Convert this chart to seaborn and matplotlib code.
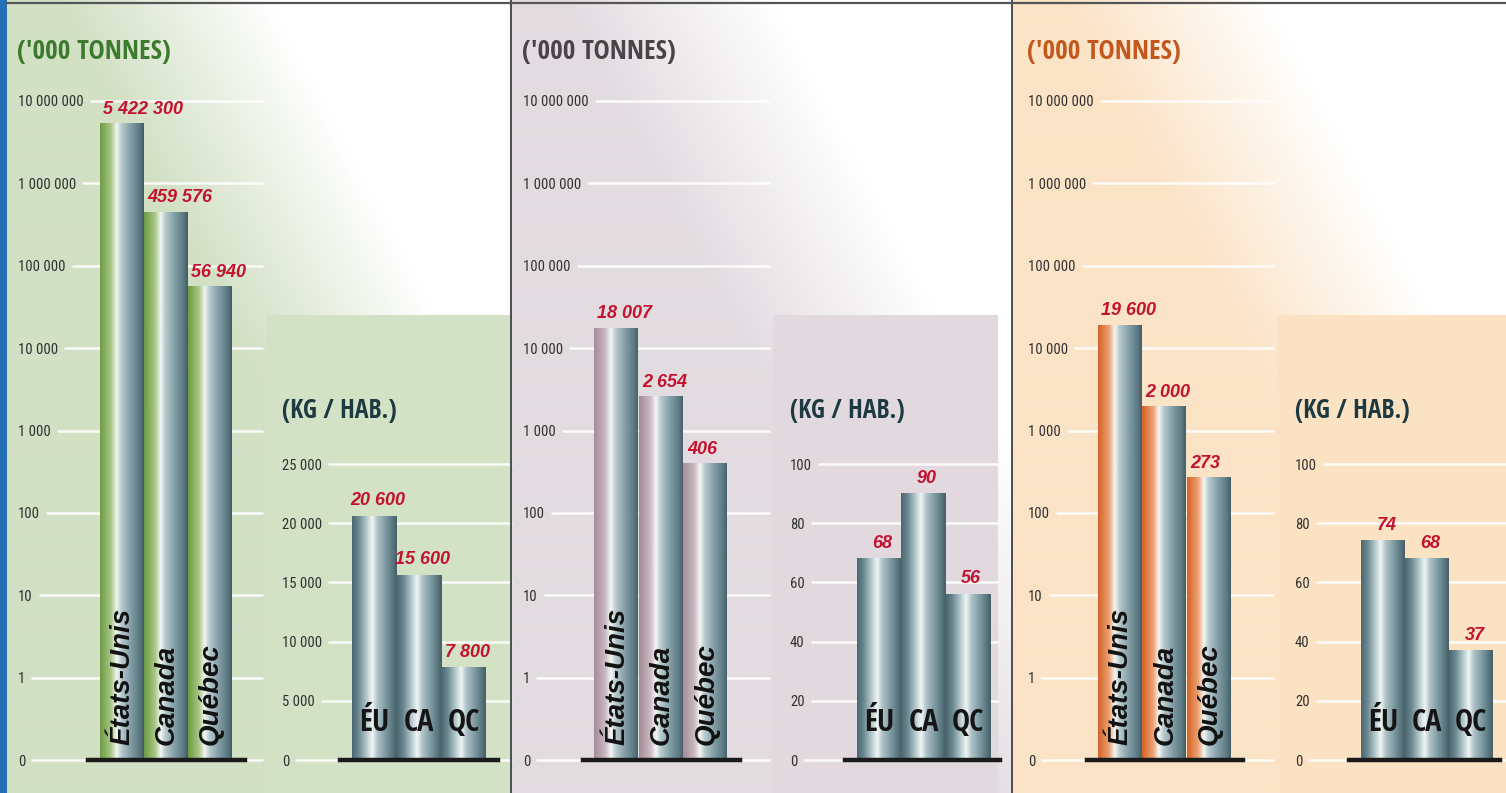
import numpy as np
import matplotlib
matplotlib.use("Agg")
import matplotlib.pyplot as plt
import seaborn as sns
import pandas as pd
from matplotlib.colors import LinearSegmentedColormap, to_rgb
from matplotlib.lines import Line2D
from matplotlib.patches import Rectangle
from matplotlib.ticker import NullLocator

W, H = 1506, 793

# ---- data -------------------------------------------------------------
REGIONS = ["États-Unis", "Canada", "Québec"]
REGION_ABBR = ["ÉU", "CA", "QC"]

# totals, '000 tonnes (log axis)
TOTAL_1 = [5422300, 459576, 56940]
TOTAL_2 = [18007, 2654, 406]
TOTAL_3 = [19600, 2000, 273]

# per inhabitant, kg / hab.
PERCAP_1 = [20600, 15600, 7800]
PERCAP_2 = [68, 90, 56]
PERCAP_3 = [74, 68, 37]

LOG_TICKS = [0.1, 1, 10, 100, 1e3, 1e4, 1e5, 1e6, 1e7]
LOG_TICK_LABELS = ["0", "1", "10", "100", "1 000", "10 000", "100 000",
                   "1 000 000", "10 000 000"]
PERCAP_TICKS_1 = [0, 5000, 10000, 15000, 20000, 25000]
PERCAP_TICKS_23 = [0, 20, 40, 60, 80, 100]

TITLE_MAIN = "('000 TONNES)"
TITLE_INSET = "(KG / HAB.)"

# ---- layout / styles (pixel positions of the reference) ---------------
PANELS = [
    dict(total=TOTAL_1, percap=PERCAP_1, pticks=PERCAP_TICKS_1,
         x0=7, x1=511, tint="#d2e0c4", inset_tint="#d3e2c5",
         title_color="#3c7b2d", bar_dark="#6f9c47", bar_light="#a9c886",
         tick_x=18, main=(88, 245), main_bar0=100, main_bw=44,
         inset_bg=(266, 511), inset_x=282, inset=(340, 498), inset_bar0=352, inset_bw=44.7),
    dict(total=TOTAL_2, percap=PERCAP_2, pticks=PERCAP_TICKS_23,
         x0=511, x1=1012, tint="#e2dce0", inset_tint="#e2d9de",
         title_color="#4a4347", bar_dark="#a48e99", bar_light="#cbb9c1",
         tick_x=523, main=(583, 740), main_bar0=594, main_bw=44.7,
         inset_bg=(773, 998), inset_x=790, inset=(845, 1000), inset_bar0=857, inset_bw=44.3),
    dict(total=TOTAL_3, percap=PERCAP_3, pticks=PERCAP_TICKS_23,
         x0=1012, x1=1506, tint="#fbe3c6", inset_tint="#fbe2c2",
         title_color="#c2581e", bar_dark="#d5652a", bar_light="#eda173",
         tick_x=1028, main=(1087, 1243), main_bar0=1098, main_bw=44.3,
         inset_bg=(1277, 1506), inset_x=1295, inset=(1349, 1500), inset_bar0=1361, inset_bw=44),
]

BASE_Y = 760       # pixel row of the zero line
MAIN_TOP_Y = 101   # pixel row of 10 000 000
INSET_TOP_Y = 464  # pixel row of the top inset tick
RED = "#c3122f"
COND_BOLD = ["Open Sans Condensed", "IBM Plex Sans Condensed", "Liberation Sans", "DejaVu Sans"]
COND = ["Roboto Condensed", "IBM Plex Sans Condensed", "Liberation Sans", "DejaVu Sans"]
SANS = ["Liberation Sans", "DejaVu Sans"]

GRAD = np.linspace(0, 1, 256)[None, :]
INSET_CMAP = LinearSegmentedColormap.from_list("metal", [
    (0.0, "#4a6670"), (0.15, "#6c8a93"), (0.36, "#c6d6d8"), (0.45, "#f2f6f5"),
    (0.56, "#b0c4c8"), (0.8, "#718f98"), (1.0, "#465f68")])


def fx(px):
    return px / W


def fy(py):
    return 1 - py / H


def fmt(v):
    return f"{v:,}".replace(",", " ")


def main_cmap(p):
    return LinearSegmentedColormap.from_list("bar", [
        (0.0, p["bar_dark"]), (0.24, p["bar_light"]), (0.37, "#f3f6f4"),
        (0.48, "#b7c9cd"), (0.7, "#7f9ba3"), (0.88, "#5e7b85"), (1.0, "#3f5961")])


def shade(ax, cmap, ybottom):
    for p in ax.patches:
        x0, w, h = p.get_x(), p.get_width(), p.get_height()
        ax.imshow(GRAD, cmap=cmap, extent=(x0, x0 + w, ybottom, h), aspect="auto",
                  interpolation="bicubic", zorder=2)
        p.set_facecolor("none")
        p.set_edgecolor("none")


def style_axis(ax, left_px, tick_x_px):
    ax.set_facecolor("none")
    for s in ("left", "right", "top"):
        ax.spines[s].set_visible(False)
    ax.spines["bottom"].set_color("#1a1a1a")
    ax.spines["bottom"].set_linewidth(3.2)
    ax.spines["bottom"].set_zorder(4)
    ax.set_xticks([])
    ax.set_xlabel("")
    ax.set_ylabel("")
    ax.yaxis.set_minor_locator(NullLocator())
    ax.tick_params(axis="y", length=0, pad=(left_px - tick_x_px) * 0.72,
                   labelsize=10.5, labelcolor="#303030")
    for lab in ax.get_yticklabels():
        lab.set_horizontalalignment("left")
        lab.set_family(COND)


sns.set_theme(style="white")
plt.rcParams["font.family"] = SANS

fig = plt.figure(figsize=(W / 100, H / 100), dpi=100)
fig.patch.set_facecolor("white")

# ---- background washes ----------------------------------------------------
bg = fig.add_axes([0, 0, 1, 1], zorder=-10)
bg.set_axis_off()
gx, gy = np.meshgrid(np.arange(0, W, 2) + 1, np.arange(0, H, 2) + 1)
img = np.ones(gx.shape + (3,))
for p in PANELS:
    m = (gx >= p["x0"]) & (gx < p["x1"])
    u = (gx - p["x0"]) / (p["x1"] - p["x0"])
    v = gy / H
    wt = np.clip(2.4 * u - 2.0 * v - 0.25, 0, 1)[..., None]
    col = np.array(to_rgb(p["tint"]))
    img[m] = (col * (1 - wt) + wt)[m]
bg.imshow(img, extent=(0, W, H, 0), aspect="auto", interpolation="bilinear")
bg.set_xlim(0, W)
bg.set_ylim(H, 0)
for p in PANELS:
    a, b = p["inset_bg"]
    bg.add_patch(Rectangle((a, 315), b - a, H - 315, facecolor=p["inset_tint"],
                           edgecolor="none", zorder=2))
bg.add_patch(Rectangle((0, 0), 7, H, facecolor="#2370b4", edgecolor="none", zorder=3))
for xs in (511, 1012):
    fig.add_artist(Line2D([fx(xs)] * 2, [0, 1], color="#4d4d4d", lw=1.4))
fig.add_artist(Line2D([fx(7), 1], [fy(2.5)] * 2, color="#555555", lw=1.6))

pending_grids = []

for p in PANELS:
    # ---- totals, log axis ----
    L, R = p["main"]
    ax = fig.add_axes([fx(L), fy(BASE_Y), (R - L) / W, (BASE_Y - MAIN_TOP_Y) / H])
    df = pd.DataFrame({"region": REGIONS, "value": p["total"]})
    sns.barplot(data=df, x="region", y="value", ax=ax, width=1.0, color="#7f9ba3",
                saturation=1, errorbar=None)
    ax.set_yscale("log")
    shade(ax, main_cmap(p), 0.1)
    xl0 = -0.5 - (p["main_bar0"] - L) / p["main_bw"]
    ax.set_xlim(xl0, xl0 + (R - L) / p["main_bw"])
    ax.set_ylim(0.1, 1e7)
    ax.set_yticks(LOG_TICKS, LOG_TICK_LABELS)
    style_axis(ax, L, p["tick_x"])
    for bar, val, name in zip(ax.patches, p["total"], REGIONS):
        ax.annotate(fmt(val), xy=(bar.get_x(), val), xytext=(2.5, 3.5),
                    textcoords="offset points", ha="left", va="bottom",
                    color=RED, fontsize=13, fontweight="bold", style="italic", zorder=6)
        ax.annotate(name, xy=(bar.get_x() + bar.get_width() / 2, 0.1), xytext=(0.5, 11),
                    textcoords="offset points", rotation=90, ha="center", va="bottom",
                    color="#111111", fontsize=20, fontweight="bold", style="italic",
                    zorder=6, annotation_clip=False)
    pending_grids.append((ax, LOG_TICKS, p["inset_bg"][0] - 4))
    fig.text(fx(p["tick_x"] - 1), fy(52), TITLE_MAIN, color=p["title_color"],
             fontsize=19.5, fontweight="bold", family=COND_BOLD, ha="left", va="center")

    # ---- per inhabitant inset ----
    L2, R2 = p["inset"]
    ax2 = fig.add_axes([fx(L2), fy(BASE_Y), (R2 - L2) / W, (BASE_Y - INSET_TOP_Y) / H])
    df2 = pd.DataFrame({"region": REGION_ABBR, "value": p["percap"]})
    sns.barplot(data=df2, x="region", y="value", ax=ax2, width=1.0, color="#7f9ba3",
                saturation=1, errorbar=None)
    shade(ax2, INSET_CMAP, 0)
    xl0 = -0.5 - (p["inset_bar0"] - L2) / p["inset_bw"]
    ax2.set_xlim(xl0, xl0 + (R2 - L2) / p["inset_bw"])
    ax2.set_ylim(0, p["pticks"][-1])
    ax2.set_yticks(p["pticks"], [fmt(t) for t in p["pticks"]])
    style_axis(ax2, L2, p["inset_x"])
    for bar, val, ab in zip(ax2.patches, p["percap"], REGION_ABBR):
        cx = bar.get_x() + bar.get_width() / 2
        ax2.annotate(fmt(val), xy=(cx, val), xytext=(2.5, 5), textcoords="offset points",
                     ha="center", va="bottom", color=RED, fontsize=13,
                     fontweight="bold", style="italic", zorder=6)
        ax2.annotate(ab, xy=(cx, 0), xytext=(0, 16), textcoords="offset points",
                     ha="center", va="bottom", color="#151515", fontsize=22,
                     fontweight="bold", family=COND_BOLD, zorder=6)
    pending_grids.append((ax2, p["pticks"], p["inset_bg"][1]))
    fig.text(fx(p["inset_x"]), fy(411), TITLE_INSET, color="#1d3a42",
             fontsize=18.5, fontweight="bold", family=COND_BOLD, ha="left", va="center")

# ---- white grid lines starting right after each tick label ----------------
fig.canvas.draw()
renderer = fig.canvas.get_renderer()
for ax, ticks, x_end in pending_grids:
    bb = ax.get_window_extent(renderer)
    for t, lab in zip(ticks, ax.get_yticklabels()):
        ext = lab.get_window_extent(renderer)
        start = (ext.x1 + 7 - bb.x0) / bb.width
        end = (x_end - bb.x0) / bb.width
        ax.axhline(t, xmin=start, xmax=end, color="white", lw=1.8, alpha=0.9,
                   zorder=0.5, clip_on=False)

fig.savefig("out.png", dpi=100)
